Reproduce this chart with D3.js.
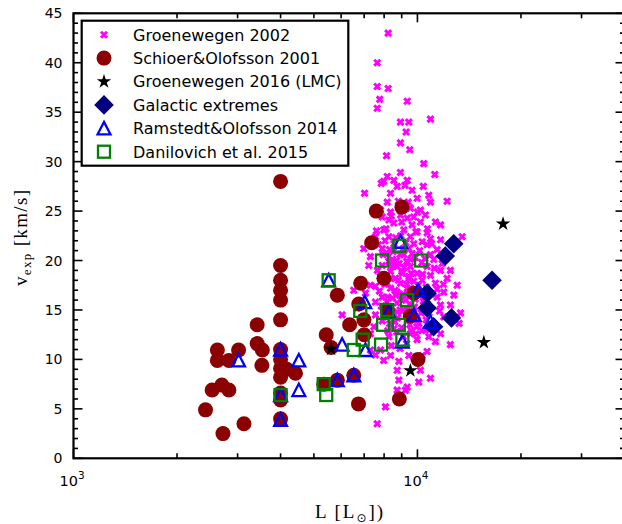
<!DOCTYPE html>
<html><head><meta charset="utf-8">
<script src="https://cdn.jsdelivr.net/npm/d3@7/dist/d3.min.js"></script>
<style>body{margin:0;background:#fff}svg{display:block}</style>
</head><body>
<svg id="chart" width="622" height="524"></svg>
<script>
// ---------------- data: [L (Lsun), v_exp (km/s)] ----------------
const groenewegen2002 = [
 [8220,43.0],[7640,40.0],[7640,37.6],[8220,37.4],[7770,36.3],[7640,35.4],[9340,36.1],[8925,34.0],[9440,34.0],[10910,34.3],
 [9270,33.0],[8925,31.9],[9500,31.2],[8130,30.6],
 [10430,29.8],[11230,28.7],[8925,28.9],[8170,28.5],[7980,28.0],[8540,28.1],[9340,28.1],[7850,27.8],[8730,27.5],[9650,27.1],
 [8350,26.8],[7020,26.8],[10790,26.6],[12200,26.0],[10910,25.9],[9980,26.3],[8170,25.9],[7810,25.1],[8350,24.9],[9540,25.3],
 [10200,25.1],[10550,24.6],[9340,24.3],[9760,24.4],[8540,23.8],[8260,24.1],[11280,23.9],[11670,23.6],[10200,23.9],[7980,23.1],
 [9130,23.1],[9980,22.9],[10670,22.8],[7550,22.4],[8260,22.4],[9540,22.4],[10910,22.2],[8540,21.7],[9760,21.7],[10320,21.9],
 [7900,21.2],[6980,21.2],[9440,21.2],[10670,21.6],[11670,22.1],[13490,22.4],[11410,21.1],[8170,20.7],[9130,20.6],[9650,20.7],
 [10910,20.6],[7300,20.4],[8450,20.1],[9340,19.9],[11150,20.1],[11800,19.7],[8730,19.4],[9540,19.4],[10670,19.4],[7220,19.5],
 [12470,19.0],[11670,19.0],[8350,18.9],[9030,18.7],[9980,18.7],[10910,18.5],[8630,18.2],[9440,18.2],[12200,18.2],[10320,18.0],
 [8170,17.7],[8925,17.7],[11280,17.7],[13050,17.5],[7550,17.4],[8350,17.2],[9340,17.2],[6530,17.0],[8730,16.8],[7060,16.7],
 [9870,16.7],[11930,16.8],[12760,16.5],[7900,16.3],[8450,16.2],[9130,16.3],[11410,16.3],[8730,15.7],[7550,15.8],[11670,15.5],
 [12470,15.5],[6680,15.2],[8730,14.8],[8170,14.3],[9340,14.3],[7550,14.5],[11930,14.3],[13340,14.7],[10090,13.65],[8540,13.1],
 [7470,13.3],[7300,12.6],[11150,13.65],[10550,13.0],[9980,12.0],[10790,12.3],[11280,11.8],[12470,11.5],[9540,12.6],[8260,12.3],
 [7300,17.5],[6040,14.5],[11670,12.6],[7300,10.95],[7550,10.45],[7980,9.9],[8830,9.8],[7810,10.95],[8730,8.9],[8830,7.9],
 [9340,7.2],[8730,6.9],[10090,7.7],[10910,8.1],[10200,8.9],[9230,6.9],[8075,5.2],[7640,3.5],[10670,10.8],[10320,10.4],
 [9440,10.4],[8350,10.4],[8925,24.6],[9650,23.6],[13220,13.65],
 [8500,20.9],[8900,20.6],[9100,21.2],[8700,20.0],[9300,19.9],[8400,19.4],[9000,18.9],[9600,18.7],[8800,18.0],[9300,17.6],
 [8600,17.0],[9100,16.6],[9700,16.9],[8200,16.3],[9500,15.6],[8900,15.0],[8400,15.3],[9800,15.3],[8000,14.6],[9300,14.5],
 [8600,13.8],[9000,13.2],[9600,12.9],[8200,12.9],[10000,14.0],[7800,18.4],[7900,19.5],[10300,19.8],[10600,17.3],[10400,15.9],
 [10800,14.7],[11000,16.6],[8100,23.2],[9000,23.9],[9900,22.9],[7900,24.4],[8800,26.0],[9200,27.6],[10400,27.5],
 [7700,21.6],[8050,22.0],[8300,21.1],[8650,22.3],[8950,22.5],[9250,21.8],[9550,20.1],[9850,20.3],[10150,21.0],[10500,20.2],
 [7650,19.0],[7950,20.6],[8250,19.9],[8550,19.6],[8850,19.7],[9150,19.3],[9450,18.4],[9750,17.9],[10050,17.5],[10350,18.6],
 [7750,16.9],[8050,17.6],[8350,18.2],[8650,16.5],[8950,16.1],[9250,16.0],[9550,17.2],[9850,16.1],[10150,16.5],[10700,15.6],
 [7850,15.4],[8150,15.8],[8450,14.6],[8750,14.2],[9050,14.9],[9350,15.1],[9650,14.1],[9950,13.3],[10250,14.7],[10600,14.0],
 [7900,13.9],[8300,13.6],[8700,12.8],[9100,12.3],[9500,13.5],[9900,12.6],[10300,12.9],[8400,11.4],[8900,11.1],[9300,11.6],
 [7600,23.0],[8400,24.5],[9400,25.9],[10000,24.9],[10700,23.2],[11000,21.7],[11200,19.2],[11400,17.1],[11600,14.9],[11900,17.6]
];
const schoier2001 = [
 [4000,28.0],[4000,19.5],[4000,18.0],[4000,17.0],[4000,16.0],[4000,14.0],[4000,11.0],[4000,10.0],[4000,9.1],[4000,8.2],
 [4000,6.6],[4000,5.9],[4000,4.0],[4170,9.0],[4420,8.6],
 [3420,13.5],[3420,11.6],[3540,10.95],[3530,9.4],[2620,10.95],[3020,10.95],[2620,9.9],[2830,9.9],[2530,6.9],[2700,7.4],
 [2830,6.9],[2420,4.9],[3130,3.5],[2720,2.5],
 [5850,16.5],[5430,12.5],[5610,11.2],[5340,7.5],[5850,7.9],[6530,8.4],
 [7590,25.0],[9010,25.4],[7360,21.8],[7990,18.2],[6840,17.7],[9760,16.7],[6750,15.6],[6990,14.0],[6350,13.5],[7000,12.5],
 [8170,15.0],[9540,14.4],[10040,10.0],[8860,6.0],[6740,5.5]
];
const groenewegen2016 = [[5610,11.05],[9540,8.86],[17740,23.7],[15600,11.73]];
const galacticExtremes = [[12750,21.7],[12050,20.45],[16480,18.0],[12560,14.2],[10670,16.7],[10670,15.2],[11140,13.3]];
const ramstedt2014 = [
 [4000,11.0],[4520,9.9],[3020,9.9],[4520,6.9],[4000,6.4],[4000,3.9],[6040,11.5],[5850,7.9],[5520,18.0],[6530,8.4],
 [7060,10.95],[7030,15.8],[8930,21.9],[8250,14.8],[10040,17.0],[9770,14.5],[10910,13.8],[9040,11.8]
];
const danilovich2015 = [
 [4000,6.4],[5340,7.5],[5430,6.4],[5520,18.0],[6820,14.9],[7890,20.0],[8860,21.5],[10250,20.0],[9330,16.0],[8170,15.0],
 [7950,13.5],[8830,13.5],[6930,12.0],[6530,10.95],[7840,11.5],[9040,12.0]
];
const legendLabels = ["Groenewegen 2002","Schioer&Olofsson 2001","Groenewegen 2016 (LMC)","Galactic extremes","Ramstedt&Olofsson 2014","Danilovich et al. 2015"];
const xMajorTicks = [1000, 10000];
const xTickLabels = [["10","3"],["10","4"]];
const xMinorTicks = [2000,3000,4000,5000,6000,7000,8000,9000,20000,30000];
const yMajorTicks = [0,5,10,15,20,25,30,35,40,45];
const yMinorTicks = d3.range(0,46,1).filter(v => v % 5 !== 0);

// ---------------- layout ----------------
const svg = d3.select("#chart");
const L = 73.5, R = 624.5, T = 13.3, B = 458.3;
const x = d3.scaleLog().domain([1000, 40000]).range([L, R]);
const y = d3.scaleLinear().domain([0, 45]).range([B, T]);

svg.append("rect").attr("width",622).attr("height",524).attr("fill","#fff");
svg.append("defs").append("clipPath").attr("id","clip")
  .append("rect").attr("x",L).attr("y",T).attr("width",R-L).attr("height",B-T);

// marker shapes
function starPath(Ro){ const ri=Ro*0.382, p=[]; for(let i=0;i<10;i++){const a=-Math.PI/2+i*Math.PI/5, rr=i%2?ri:Ro; p.push([ (rr*Math.cos(a)).toFixed(2),(rr*Math.sin(a)).toFixed(2)]);} return "M"+p.map(q=>q.join(",")).join("L")+"Z"; }
const markers = [
  {data: groenewegen2002, draw: g => g.append("path").attr("d","M-3,-3L3,3M-3,3L3,-3").attr("stroke","#ff00ff").attr("stroke-width",3).attr("fill","none")},
  {data: schoier2001, draw: g => g.append("circle").attr("r",7.5).attr("fill","#8b0000")},
  {data: groenewegen2016, draw: g => g.append("path").attr("d",starPath(7.6)).attr("fill","#000")},
  {data: galacticExtremes, draw: g => g.append("path").attr("d","M0,-9.8L9.8,0L0,9.8L-9.8,0Z").attr("fill","#000080")},
  {data: ramstedt2014, draw: g => g.append("path").attr("d","M0,-6.4L6.4,6L-6.4,6Z").attr("fill","none").attr("stroke","#0000ff").attr("stroke-width",2.3).attr("stroke-linejoin","miter")},
  {data: danilovich2015, draw: g => g.append("rect").attr("x",-6).attr("y",-6).attr("width",12).attr("height",12).attr("fill","none").attr("stroke","#008000").attr("stroke-width",2.3)}
];

const plot = svg.append("g").attr("clip-path","url(#clip)");
markers.forEach(m => {
  plot.append("g").selectAll("g").data(m.data).join("g")
    .attr("transform", d => `translate(${x(d[0])},${y(d[1])})`)
    .each(function(){ m.draw(d3.select(this)); });
});

// ---------------- axes ----------------
const ax = svg.append("g").attr("stroke","#000").attr("stroke-width",1.6);
function ticks(vals, fn){ ax.append("g").selectAll("line").data(vals).join("line").each(function(d){ const c=fn(d); d3.select(this).attr("x1",c[0]).attr("y1",c[1]).attr("x2",c[2]).attr("y2",c[3]); }); }
ticks(xMajorTicks, d => [x(d),B,x(d),B-9]);
ticks(xMajorTicks, d => [x(d),T,x(d),T+9]);
ticks(xMinorTicks, d => [x(d),B,x(d),B-5]);
ticks(xMinorTicks, d => [x(d),T,x(d),T+5]);
ticks(yMajorTicks, d => [L,y(d),L+9,y(d)]);
ticks(yMajorTicks, d => [R,y(d),R-9,y(d)]);
ticks(yMinorTicks, d => [L,y(d),L+4.5,y(d)]);
ticks(yMinorTicks, d => [R,y(d),R-4.5,y(d)]);
svg.append("rect").attr("x",L).attr("y",T).attr("width",R-L).attr("height",B-T)
  .attr("fill","none").attr("stroke","#000").attr("stroke-width",2.2);

const sans = "'DejaVu Sans', sans-serif";
svg.append("g").selectAll("text").data(yMajorTicks).join("text")
  .attr("x", L-11).attr("y", d => y(d)+5).attr("text-anchor","end")
  .attr("font-family",sans).attr("font-size",14).text(d => d);

const xl = svg.append("g").selectAll("text").data(xMajorTicks).join("text")
  .attr("x", d => x(d)-1.5).attr("y", 486).attr("text-anchor","middle")
  .attr("font-family",sans).attr("font-size",14.5);
xl.append("tspan").text((d,i) => xTickLabels[i][0]);
xl.append("tspan").attr("font-size",10.5).attr("dy",-7).text((d,i) => xTickLabels[i][1]);

// axis titles
const serif = "'Liberation Serif','Times New Roman',serif";
const xt = svg.append("text").attr("x",349).attr("y",518).attr("text-anchor","middle")
  .attr("font-family",serif).attr("font-size",19).attr("textLength",68).attr("lengthAdjust","spacing");
xt.append("tspan").text("L [L");
xt.append("tspan").attr("font-size",12).attr("dy",4).attr("font-family","'DejaVu Sans'").text("\u2299");
xt.append("tspan").attr("dy",-4).text("])");

const yt = svg.append("text").attr("transform","translate(27,238) rotate(-90)").attr("text-anchor","middle")
  .attr("font-family",serif).attr("font-size",19).attr("textLength",96).attr("lengthAdjust","spacing");
yt.append("tspan").text("v");
yt.append("tspan").attr("font-size",13).attr("dy",4).text("exp");
yt.append("tspan").attr("dy",-4).text(" [km/s]");

// ---------------- legend ----------------
const lg = svg.append("g");
lg.append("rect").attr("x",81.7).attr("y",20.7).attr("width",266.6).attr("height",145)
  .attr("fill","#fff").attr("stroke","#000").attr("stroke-width",2.2);
const rowY = i => 34.7 + i*23.4;
legendLabels.forEach((lab,i) => {
  const g = lg.append("g").attr("transform",`translate(104,${rowY(i)})`);
  markers[i].draw(g);
  lg.append("text").attr("x",133).attr("y",rowY(i)+5.8).attr("font-family",sans).attr("font-size",16).text(lab);
});
</script>
</body></html>
